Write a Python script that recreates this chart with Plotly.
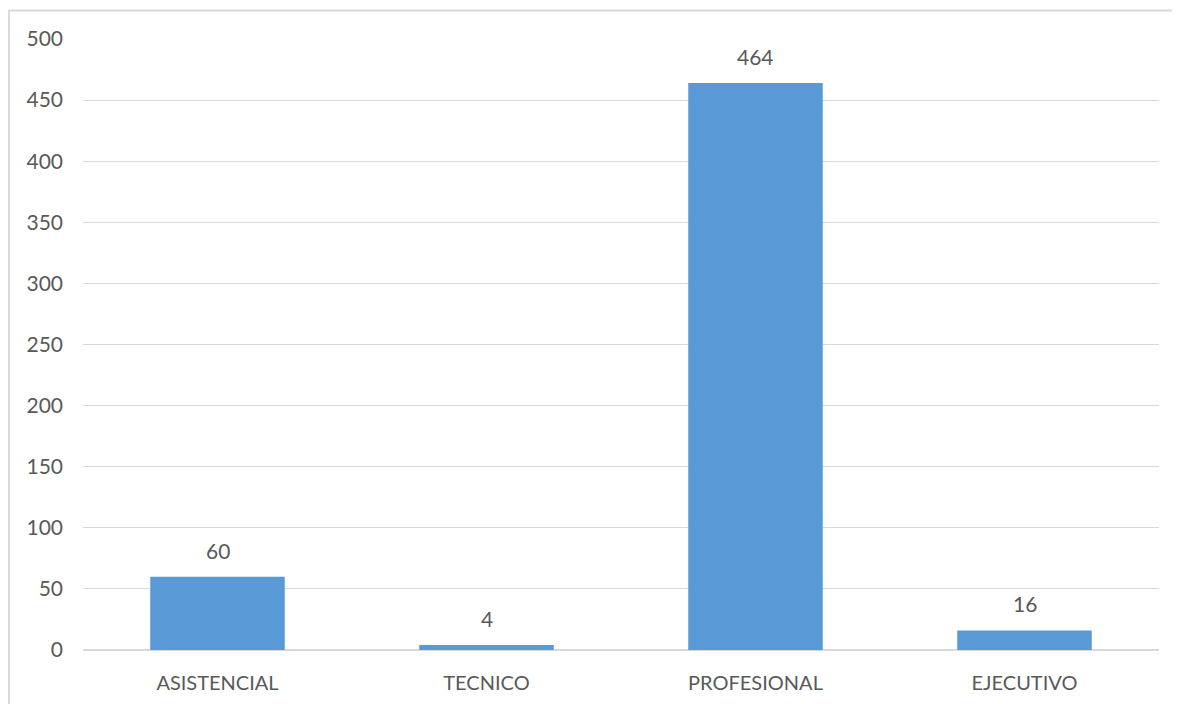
import plotly.graph_objects as go

categories = ["ASISTENCIAL", "TECNICO", "PROFESIONAL", "EJECUTIVO"]
values = [60, 4, 464, 16]
y_ticks = [0, 50, 100, 150, 200, 250, 300, 350, 400, 450, 500]

FONT = "Lato, 'Open Sans', sans-serif"
TEXT = "#595959"
GRID = "#D9D9D9"

fig = go.Figure()
fig.add_trace(go.Bar(
    x=categories, y=values,
    marker=dict(color="#5899D6", line=dict(width=0)),
    width=0.5,
    hoverinfo="x+y",
))

for c, v in zip(categories, values):
    fig.add_annotation(x=c, y=v, text=str(v), showarrow=False,
                       yanchor="bottom", yshift=12,
                       font=dict(family=FONT, size=21, color=TEXT))

# outer chart frame (top and left edges visible in reference)
fig.add_shape(type="line", xref="paper", yref="paper",
              x0=-0.0693, x1=1.05, y0=1.0466, y1=1.0466,
              line=dict(color="#D9D9D9", width=2))
fig.add_shape(type="line", xref="paper", yref="paper",
              x0=-0.0693, x1=-0.0693, y0=1.0466, y1=-0.2,
              line=dict(color="#D9D9D9", width=3))

fig.update_layout(
    width=1180, height=704,
    margin=dict(l=75, r=29, t=31, b=62),
    paper_bgcolor="white", plot_bgcolor="white",
    showlegend=False,
    bargap=0.5,
    font=dict(family=FONT, size=20, color=TEXT),
)
fig.update_xaxes(showgrid=False, showline=True, linecolor=GRID, linewidth=1,
                 ticks="", ticklabelstandoff=15,
                 tickfont=dict(family=FONT, size=20, color=TEXT))
fig.update_yaxes(range=[0, 500], tickvals=y_ticks, showgrid=True,
                 gridcolor=GRID, gridwidth=1, zeroline=True, zerolinecolor=GRID,
                 showline=False, ticks="", ticklabelstandoff=19,
                 tickfont=dict(family=FONT, size=21, color=TEXT))

fig.write_html("out.html")
